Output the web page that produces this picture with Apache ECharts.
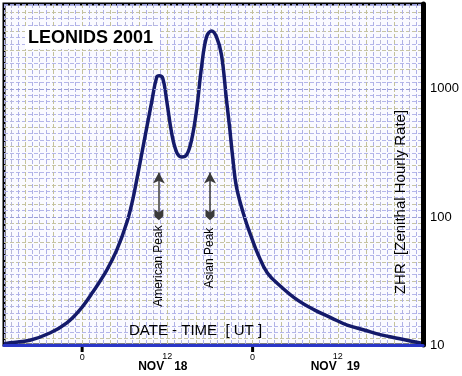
<!DOCTYPE html>
<html>
<head>
<meta charset="utf-8">
<title>Leonids 2001</title>
<script src="https://cdn.jsdelivr.net/npm/echarts@6/dist/echarts.min.js"></script>
<style>
  html, body { margin: 0; padding: 0; background: #fff; }
  #chart { width: 462px; height: 376px; }
</style>
</head>
<body>
<div id="chart"></div>
<script>
// hours from Nov 18 00:00 UT
var hours = [-11, -10.15, -7.35, -4.54, -2.15, -0.32, 1.5, 3.47, 4.87, 6.28, 7.12, 7.68, 8.52, 9.78,
    10.5, 10.85, 11.35, 11.89, 12.6, 13.3, 14.0, 14.7, 15.41, 16.11, 16.81, 17.51, 18.22, 18.92, 19.62,
    20.32, 20.75, 21.24, 21.73, 22.85, 23.98, 24.68, 26.08, 28.05, 30.29, 32.68, 35.07, 37.32, 39.71,
    42.1, 44.35, 46.74, 48];
// ZHR
var zhr = [10.2, 10.4, 10.9, 12.4, 14.9, 18.8, 25.9, 38.5, 55, 90, 136, 194, 339, 785,
    1235, 1265, 1210, 820, 452, 321, 294, 305, 400, 684, 1480, 2540, 2830, 2540, 1840,
    820, 507, 278, 171, 100, 66, 52.3, 36.5, 28.4, 22.5, 18.8, 16.3, 14.3, 13.1,
    12.0, 11.3, 10.6, 10.3];

var xLabelHours = [0, 12, 24, 36];
var xTickHours = [0, 24];
var dayNames = ['NOV   18', 'NOV   19'];

var peakNames = ['American Peak', 'Asian Peak'];
var peakHours = [10.8, 18.0];
var arrowZhr = [104, 222];

var myChart = echarts.init(document.getElementById('chart'));

var fletch = 'path://M5,0 L10,5 L10,14 L5,10 L0,14 L0,5 Z';
var logTop = Math.log(4600) / Math.LN10;

var lineData = [];
for (var i = 0; i < hours.length; i++) {
    lineData.push([hours[i], zhr[i]]);
}

var arrows = [];
for (var k = 0; k < peakHours.length; k++) {
    arrows.push([
        {coord: [peakHours[k], arrowZhr[0]]},
        {coord: [peakHours[k], arrowZhr[1]]}
    ]);
}

var dayFont = {fontSize: 12, fontWeight: 'bold', color: '#000', lineHeight: 12};

var option = {
    animation: false,
    backgroundColor: '#fff',
    textStyle: {fontFamily: 'Liberation Sans, Arial, sans-serif'},
    grid: {
        left: 4, right: 38, top: 4, bottom: 31,
        show: true,
        borderColor: '#000',
        borderWidth: 3,
        backgroundColor: '#fafaff'
    },
    xAxis: [{
        type: 'value',
        min: -11,
        max: 48,
        interval: 1,
        axisLine: {show: true, onZero: false, lineStyle: {color: '#2a36c8', width: 3}},
        axisTick: {show: false},
        axisLabel: {
            customValues: xLabelHours,
            margin: 8,
            formatter: function (v) {
                if (v % 24 === 0) {
                    return '{z|0}';
                }
                var d = Math.floor(v / 24);
                return '{t|12}\n{d' + d + '|' + dayNames[d] + '}';
            },
            rich: {
                z: {fontSize: 9, color: '#000', lineHeight: 10},
                t: {fontSize: 9, color: '#000', lineHeight: 8},
                d0: echarts.util.extend({padding: [0, 9, 0, 0]}, dayFont),
                d1: echarts.util.extend({padding: [0, 5, 0, 0]}, dayFont)
            }
        },
        splitLine: {show: false},
        z: 5
    }, {
        // graph paper, one line an hour
        type: 'value',
        min: -11,
        max: 48,
        interval: 1,
        axisLine: {show: false},
        axisTick: {show: false},
        axisLabel: {show: false},
        splitLine: {show: true, lineStyle: {color: ['#aeb0e6', '#b8b8d8', '#aeb0e6', '#c4c29a'], type: 'dashed', width: 1}}
    }],
    yAxis: [{
        type: 'log',
        logBase: 10,
        min: 10,
        max: 4600,
        position: 'right',
        axisLine: {show: true, onZero: false, lineStyle: {color: '#000', width: 5}},
        axisTick: {show: false},
        axisLabel: {
            color: '#000',
            fontSize: 13,
            margin: 7,
            showMaxLabel: false,
            formatter: function (v) { return String(v); }
        },
        splitLine: {show: true, lineStyle: {color: '#9a9ed8', type: 'dashed'}},
        z: 5
    }, {
        // graph paper, horizontal lines
        type: 'value',
        min: 1,
        max: logTop,
        interval: 0.05,
        position: 'left',
        axisLine: {show: false},
        axisTick: {show: false},
        axisLabel: {show: false},
        splitLine: {show: true, lineStyle: {color: ['#b4b6ea', '#c6c4a4', '#b4b6ea'], type: 'dashed', width: 1}}
    }],
    series: [{
        type: 'line',
        data: lineData,
        showSymbol: false,
        smooth: 0.4,
        lineStyle: {color: '#141a6a', width: 3.5},
        markLine: {
            silent: true,
            symbol: [fletch, 'arrow'],
            symbolSize: [9, 11],
            label: {show: false},
            lineStyle: {color: '#3a3a3a', width: 1.5, type: 'solid'},
            data: arrows
        },
        z: 3
    }]
};

myChart.setOption(option);

// texts and day ticks placed after the scales exist
var gr = [
    {type: 'rect', shape: {x: 25, y: 26, width: 135, height: 23}, style: {fill: '#fff'}},
    {type: 'text', x: 28, y: 38, style: {text: 'LEONIDS 2001', font: 'bold 18px Liberation Sans, Arial, sans-serif',
        fill: '#000', textVerticalAlign: 'middle'}},
    {type: 'text', x: 129, y: 331, style: {text: 'DATE - TIME  [ UT ]', font: '15px Liberation Sans, Arial, sans-serif',
        fill: '#000', textVerticalAlign: 'middle'}},
    {type: 'text', x: 401, y: 202, rotation: Math.PI / 2,
        style: {text: 'ZHR  [Zenithal Hourly Rate]', font: '15px Liberation Sans, Arial, sans-serif',
            fill: '#000', textAlign: 'center', textVerticalAlign: 'middle'}}
];
for (var t = 0; t < xTickHours.length; t++) {
    var tp = myChart.convertToPixel({gridIndex: 0}, [xTickHours[t], 10]);
    gr.push({type: 'line', shape: {x1: tp[0], y1: tp[1] + 1, x2: tp[0], y2: tp[1] + 7},
        style: {stroke: '#000', lineWidth: 3}});
}
var labelMid = [266, 258];
for (var p = 0; p < peakNames.length; p++) {
    var px = myChart.convertToPixel({gridIndex: 0}, [peakHours[p], 100])[0];
    gr.push({type: 'text', x: px, y: labelMid[p], rotation: Math.PI / 2,
        style: {text: peakNames[p], font: '12px Liberation Sans, Arial, sans-serif',
            fill: '#000', textAlign: 'center', textVerticalAlign: 'middle'}});
}
myChart.setOption({graphic: gr});
</script>
</body>
</html>
